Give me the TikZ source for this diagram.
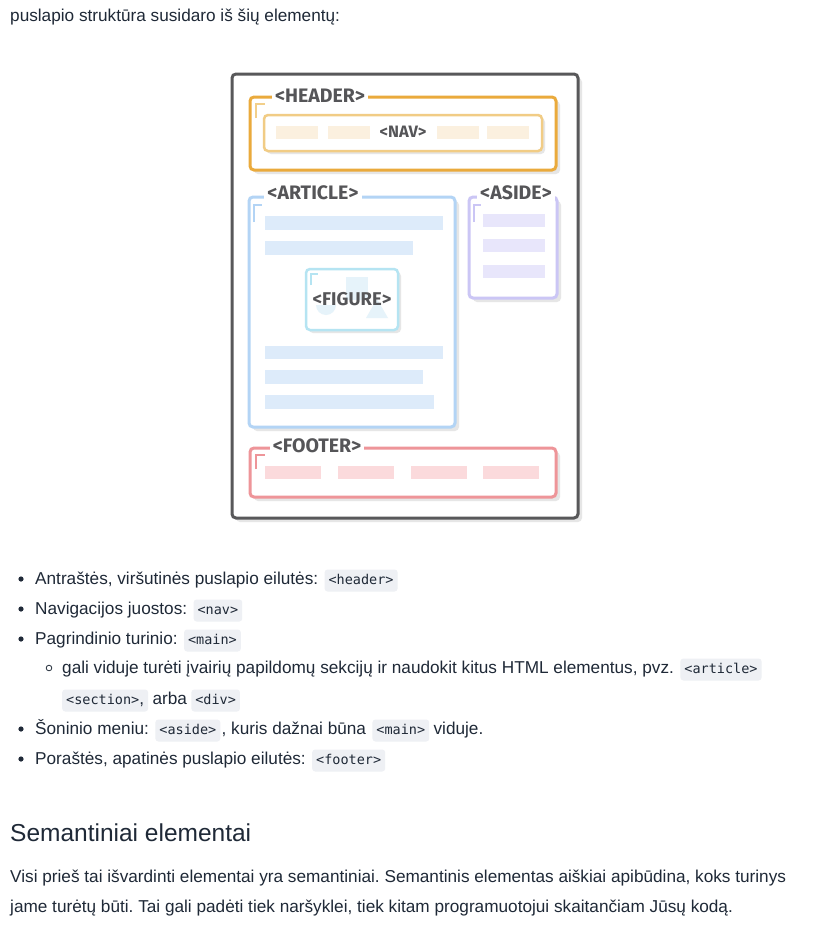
\documentclass[tikz,border=0pt]{standalone}
\usepackage{fontspec}
\setmainfont{Liberation Sans}
\newfontfamily\lblfont{Fira Sans}
\newfontfamily\codefont{DejaVu Sans Mono}
\frenchspacing
\definecolor{txt}{HTML}{1F2937}
\definecolor{outerc}{HTML}{58585A}
\definecolor{shad}{HTML}{E6E6E6}
\definecolor{hdr}{HTML}{EAAA3C}
\definecolor{hdrl}{HTML}{F2CF8A}
\definecolor{navc}{HTML}{F1CC85}
\definecolor{navb}{HTML}{FBF0DF}
\definecolor{artc}{HTML}{B3D4F5}
\definecolor{artb}{HTML}{DDEBFA}
\definecolor{figc}{HTML}{B5E4F2}
\definecolor{figb}{HTML}{E6F3FA}
\definecolor{asic}{HTML}{CBC6F5}
\definecolor{asib}{HTML}{E8E6FB}
\definecolor{ftc}{HTML}{EE9599}
\definecolor{ftb}{HTML}{FBDADC}
\definecolor{lbl}{HTML}{555558}
\definecolor{codebg}{HTML}{EEF0F4}
\begin{document}
\begin{tikzpicture}[x=1pt,y=-1pt,
  shadowbox/.style={fill=shad, draw=none, rounded corners=4},
  box/.style={line width=3, rounded corners=4, fill=white},
  lab/.style={fill=white, inner xsep=3, inner ysep=0, text=lbl, font=\lblfont\bfseries\fontsize{19.5}{19.5}\selectfont},
  body/.style={anchor=base west, inner sep=0, text=txt, font=\frenchspacing\fontsize{17.2}{17.2}\selectfont},
  code/.style={anchor=base west, fill=codebg, rounded corners=3, inner xsep=4, inner ysep=4,
     text height=10.5, text depth=3.5, text=txt, font=\codefont\fontsize{13.5}{13.5}\selectfont},
  dot/.style={fill=txt, draw=none}
]
\useasboundingbox (0,0) rectangle (812,932);
\fill[white] (0,0) rectangle (812,932);

% top line
\node[body] (intro) at (10,21) {puslapio struktūra susidaro iš šių elementų:};

% outer page
\fill[shadowbox] (236,78) rectangle (582,522);
\draw[box, draw=outerc] (232,74) rectangle (578,518);

% header
\fill[shadowbox] (254,101) rectangle (560,174);
\draw[box, draw=hdr] (250,97) rectangle (556,170);
\node[lab] (hdrlab) at (320,96) {<HEADER>};
\draw[hdrl, line width=1.5] (256,118) -- (256,104) -- (265,104);
% nav
\fill[shadowbox] (267,118) rectangle (545,154);
\draw[box, draw=navc, line width=2.5] (264,115) rectangle (542,151);
\foreach \x in {276,328,437,487} \fill[navb] (\x,126) rectangle (\x+42,139);
\node[text=lbl, font=\lblfont\bfseries\fontsize{16.5}{16.5}\selectfont, inner sep=0] (navlab) at (403,132) {<NAV>};

% article
\fill[shadowbox] (253,201) rectangle (459,431);
\draw[box, draw=artc] (249,197) rectangle (455,427);
\node[lab] (artlab) at (313,193) {<ARTICLE>};
\draw[artc, line width=1.5] (254,222) -- (254,205) -- (262,205);
\fill[artb] (265,216) rectangle (443,230);
\fill[artb] (265,241) rectangle (413,255);
\fill[artb] (265,346) rectangle (443,359);
\fill[artb] (265,370) rectangle (423,384);
\fill[artb] (265,395) rectangle (434,409);

% figure
\fill[shadowbox] (309,272) rectangle (401,333);
\draw[box, draw=figc, line width=2.5] (306,269) rectangle (398,330);
\draw[figc, line width=1.2] (311,285) -- (311,274) -- (318,274);
\fill[figb] (316,305) arc[start angle=180, end angle=0, radius=10] -- cycle;
\fill[figb] (346,277) rectangle (368,300);
\fill[figb] (366,318) -- (388,318) -- (377,299) -- cycle;
\node[text=lbl, font=\lblfont\bfseries\fontsize{18.5}{18.5}\selectfont, inner sep=0] (figlab) at (352,299) {<FIGURE>};

% aside
\fill[shadowbox] (473,201) rectangle (561,302);
\draw[box, draw=asic] (469,197) rectangle (557,298);
\node[lab] (asilab) at (516,193) {<ASIDE>};
\draw[asic, line width=1.5] (474,222) -- (474,205) -- (481,205);
\fill[asib] (483,214) rectangle (545,227);
\fill[asib] (483,239) rectangle (545,252);
\fill[asib] (483,265) rectangle (545,278);

% footer
\fill[shadowbox] (254,452) rectangle (560,501);
\draw[box, draw=ftc] (250,448) rectangle (556,497);
\node[lab] (ftlab) at (317,446) {<FOOTER>};
\draw[ftc, line width=1.5] (256,469) -- (256,455) -- (265,455);
\foreach \x in {265,338,411,483} \fill[ftb] (\x,466) rectangle (\x+56,479);

% bullet list
\fill[dot] (21,579) circle (2.6);
\node[body] (b1) at (35,584) {Antraštės, viršutinės puslapio eilutės:};
\node[code] (c1) at ([xshift=6]b1.base east) {<header>};

\fill[dot] (21,609) circle (2.6);
\node[body] (b2) at (35,614) {Navigacijos juostos:};
\node[code] (c2) at ([xshift=6]b2.base east) {<nav>};

\fill[dot] (21,639) circle (2.6);
\node[body] (b3) at (35,644) {Pagrindinio turinio:};
\node[code] (c3) at ([xshift=6]b3.base east) {<main>};

\draw[txt, line width=0.8] (49,668) circle (2.8);
\node[body] (s1) at (62,673) {gali viduje turėti įvairių papildomų sekcijų ir naudokit kitus HTML elementus, pvz.};
\node[code] (c4) at ([xshift=6]s1.base east) {<article>};
\node[code] (c5) at (62,704) {<section>{\rmfamily\fontsize{17.2}{17.2}\selectfont,}};
\node[body] (s2) at ([xshift=4]c5.base east) {arba};
\node[code] (c6) at ([xshift=4]s2.base east) {<div>};

\fill[dot] (21,729) circle (2.6);
\node[body] (b4) at (35,734) {Šoninio meniu:};
\node[code] (c7) at ([xshift=6]b4.base east) {<aside>};
\node[body] (b4b) at ([xshift=1]c7.base east) {, kuris dažnai būna};
\node[code] (c8) at ([xshift=6]b4b.base east) {<main>};
\node[body] (b4c) at ([xshift=4]c8.base east) {viduje.};

\fill[dot] (21,759) circle (2.6);
\node[body] (b5) at (35,764) {Poraštės, apatinės puslapio eilutės:};
\node[code] (c9) at ([xshift=6]b5.base east) {<footer>};

% heading and paragraph
\node[body, font=\fontsize{24.5}{24.5}\selectfont] (h) at (10,841) {Semantiniai elementai};
\node[body] (p1) at (10,882) {Visi prieš tai išvardinti elementai yra semantiniai. Semantinis elementas aiškiai apibūdina, koks turinys};
\node[body] (p2) at (10,912) {jame turėtų būti. Tai gali padėti tiek naršyklei, tiek kitam programuotojui skaitančiam Jūsų kodą.};
\end{tikzpicture}
\end{document}
